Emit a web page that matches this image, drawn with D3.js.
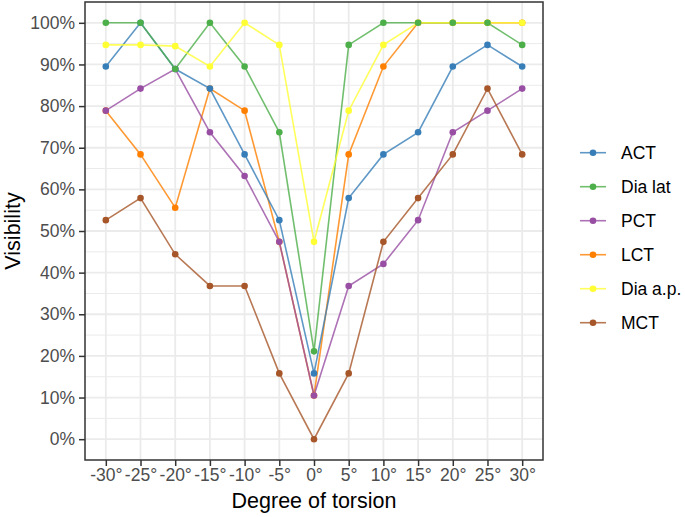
<!DOCTYPE html>
<html>
<head>
<meta charset="utf-8">
<script src="https://cdn.jsdelivr.net/npm/d3@7"></script>
<style>
  body { margin: 0; background: #fff; }
  svg { font-family: "Liberation Sans", Arial, sans-serif; }
</style>
</head>
<body>
<svg></svg>
<script>
// Torsionswinkel (x-Achse)
const degrees = [-30, -25, -20, -15, -10, -5, 0, 5, 10, 15, 20, 25, 30];
const yTicks = [0, 0.1, 0.2, 0.3, 0.4, 0.5, 0.6, 0.7, 0.8, 0.9, 1.0];

// Werte je Struktur (Anteil sichtbar)
const act = [0.895, 1.0, 0.889, 0.842, 0.684, 0.526, 0.158, 0.579, 0.684, 0.737, 0.895, 0.947, 0.895];
const diaLat = [1.0, 1.0, 0.889, 1.0, 0.895, 0.737, 0.211, 0.947, 1.0, 1.0, 1.0, 1.0, 0.947];
const pct = [0.789, 0.842, 0.889, 0.737, 0.632, 0.474, 0.105, 0.368, 0.421, 0.526, 0.737, 0.789, 0.842];
const lct = [0.789, 0.684, 0.556, 0.842, 0.789, 0.474, 0.105, 0.684, 0.895, 1.0, 1.0, 1.0, 1.0];
const diaAp = [0.947, 0.947, 0.944, 0.895, 1.0, 0.947, 0.474, 0.789, 0.947, 1.0, 1.0, 1.0, 1.0];
const mct = [0.526, 0.579, 0.444, 0.368, 0.368, 0.158, 0.0, 0.158, 0.474, 0.579, 0.684, 0.842, 0.684];

const legendNames = ["ACT", "Dia lat", "PCT", "LCT", "Dia a.p.", "MCT"];
const colors = ["#377EB8", "#4DAF4A", "#984EA3", "#FF7F00", "#FFFF33", "#A65628"];

const series = [
  { name: "ACT", values: act },
  { name: "Dia lat", values: diaLat },
  { name: "PCT", values: pct },
  { name: "LCT", values: lct },
  { name: "Dia a.p.", values: diaAp },
  { name: "MCT", values: mct },
];

const color = d3.scaleOrdinal().domain(legendNames).range(colors);

const width = 685;
const height = 517;
const panel = { left: 85, right: 543, top: 2, bottom: 460 };

const svg = d3.select("svg").attr("width", width).attr("height", height);

// Skalen mit ggplot-typischem 5% Rand
const x = d3.scaleLinear().domain([-33, 33]).range([panel.left, panel.right]);
const y = d3.scaleLinear().domain([-0.05, 1.05]).range([panel.bottom, panel.top]);

// Hintergrund
svg.append("rect")
  .attr("x", panel.left).attr("y", panel.top)
  .attr("width", panel.right - panel.left).attr("height", panel.bottom - panel.top)
  .attr("fill", "#fff");

// Gitter
const minorY = d3.range(0.05, 1.0, 0.1);
svg.append("g").selectAll("line").data(minorY).join("line")
  .attr("x1", panel.left).attr("x2", panel.right)
  .attr("y1", (d) => y(d)).attr("y2", (d) => y(d))
  .attr("stroke", "#EBEBEB").attr("stroke-width", 1);
svg.append("g").selectAll("line").data(yTicks).join("line")
  .attr("x1", panel.left).attr("x2", panel.right)
  .attr("y1", (d) => y(d)).attr("y2", (d) => y(d))
  .attr("stroke", "#EBEBEB").attr("stroke-width", 1.8);
svg.append("g").selectAll("line").data(degrees).join("line")
  .attr("y1", panel.top).attr("y2", panel.bottom)
  .attr("x1", (d) => x(d)).attr("x2", (d) => x(d))
  .attr("stroke", "#EBEBEB").attr("stroke-width", 1.8);

// Linien und Punkte (Reihenfolge der Zeichnung wie im Original)
const drawOrder = ["LCT", "ACT", "PCT", "Dia lat", "Dia a.p.", "MCT"];
const pointOrder = ["LCT", "ACT", "PCT", "Dia a.p.", "Dia lat", "MCT"];
const byName = (n) => series.find((s) => s.name === n);

const line = d3.line()
  .x((d, i) => x(degrees[i]))
  .y((d) => y(d));

svg.append("g").selectAll("path").data(drawOrder.map(byName)).join("path")
  .attr("d", (d) => line(d.values))
  .attr("fill", "none")
  .attr("stroke", (d) => color(d.name))
  .attr("stroke-opacity", 0.8)
  .attr("stroke-width", 1.6);

pointOrder.map(byName).forEach((s) => {
  svg.append("g").selectAll("circle").data(s.values).join("circle")
    .attr("cx", (d, i) => x(degrees[i]))
    .attr("cy", (d) => y(d))
    .attr("r", 3.3)
    .attr("fill", color(s.name));
});

// Rahmen
svg.append("rect")
  .attr("x", panel.left).attr("y", panel.top)
  .attr("width", panel.right - panel.left).attr("height", panel.bottom - panel.top)
  .attr("fill", "none").attr("stroke", "#333333").attr("stroke-width", 1.5);

// Achsen
const xAxis = svg.append("g")
  .attr("transform", "translate(0," + panel.bottom + ")")
  .call(d3.axisBottom(x).tickValues(degrees).tickFormat((d) => d + "°").tickSize(6).tickPadding(3));
const yAxis = svg.append("g")
  .attr("transform", "translate(" + panel.left + ",0)")
  .call(d3.axisLeft(y).tickValues(yTicks).tickFormat(d3.format(".0%")).tickSize(6).tickPadding(4));

[xAxis, yAxis].forEach((a) => {
  a.select(".domain").remove();
  a.selectAll(".tick line").attr("stroke", "#333333").attr("stroke-width", 1.5);
  a.selectAll(".tick text")
    .attr("fill", "#4D4D4D")
    .style("font-size", "17.5px")
    .style("font-family", "'Liberation Sans', Arial, sans-serif");
});

// Achsentitel
svg.append("text")
  .attr("x", (panel.left + panel.right) / 2)
  .attr("y", 508)
  .attr("text-anchor", "middle")
  .style("font-size", "21.5px")
  .attr("fill", "#000")
  .text("Degree of torsion");

svg.append("text")
  .attr("transform", "rotate(-90)")
  .attr("x", -(panel.top + panel.bottom) / 2)
  .attr("y", 20)
  .attr("text-anchor", "middle")
  .style("font-size", "21.5px")
  .attr("fill", "#000")
  .text("Visibility");

// Legende
const legend = svg.append("g").selectAll("g").data(legendNames).join("g")
  .attr("transform", (d, i) => "translate(0," + (152.7 + i * 34) + ")");
legend.append("line")
  .attr("x1", 580).attr("x2", 606).attr("y1", 0).attr("y2", 0)
  .attr("stroke", (d) => color(d)).attr("stroke-opacity", 0.8).attr("stroke-width", 1.6);
legend.append("circle")
  .attr("cx", 593).attr("cy", 0).attr("r", 3.3)
  .attr("fill", (d) => color(d));
legend.append("text")
  .attr("x", 621).attr("y", 0).attr("dy", "0.35em")
  .style("font-size", "17.5px")
  .attr("fill", "#000")
  .text((d) => d);
</script>
</body>
</html>
